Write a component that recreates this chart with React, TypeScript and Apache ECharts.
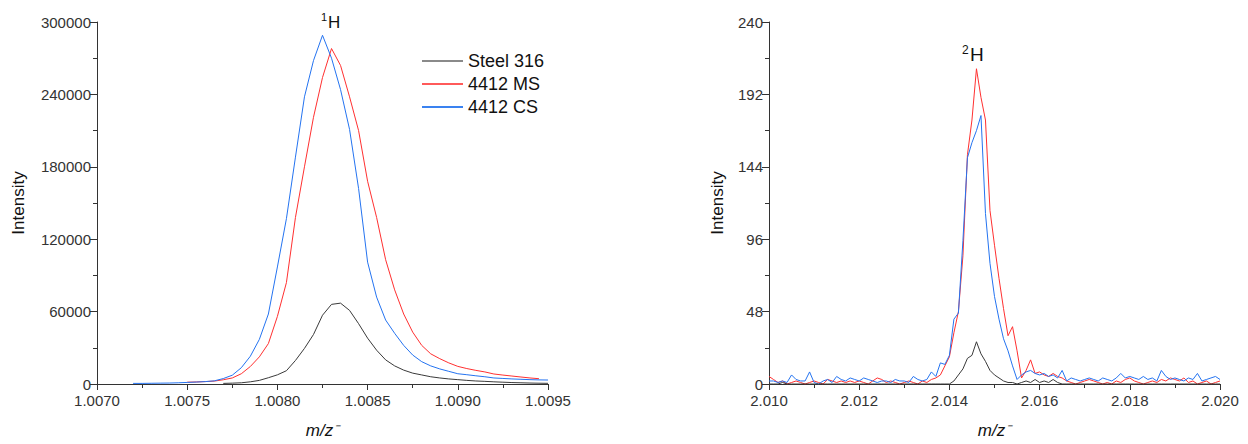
import React, { useEffect, useRef } from "react";
import * as echarts from "echarts";

// ---------- Data: 1H region (left panel) ----------
const H1_MZ = [
  1.0072, 1.00725, 1.0073, 1.00735, 1.0074, 1.00745, 1.0075, 1.00755, 1.0076, 1.00765,
  1.0077, 1.00775, 1.0078, 1.00785, 1.0079, 1.00795, 1.008, 1.00805, 1.0081, 1.00815,
  1.0082, 1.00825, 1.0083, 1.00835, 1.0084, 1.00845, 1.0085, 1.00855, 1.0086, 1.00865,
  1.0087, 1.00875, 1.0088, 1.00885, 1.0089, 1.00895, 1.009, 1.00905, 1.0091, 1.00915,
  1.0092, 1.00925, 1.0093, 1.00935, 1.0094, 1.00945, 1.0095,
];
const H1_STEEL = [
  null, null, null, null, null, null, null, null, null, null,
  500, 700, 1000, 1800, 3000, 5200, 7600, 11000, 19500, 29500,
  41000, 57000, 66000, 67000, 61000, 50000, 38000, 28000, 20000, 15000,
  11500, 9000, 7500, 6000, 5000, 4200, 3600, 3000, 2500, 2200,
  1800, 1500, 1200, 1000, 800, 650, 550,
];
const H1_MS = [
  null, null, null, null, null, null, 1500, 1700, 2000, 2400,
  3500, 5000, 8500, 14500, 22500, 33500, 56000, 84000, 138000, 180000,
  221000, 254000, 278000, 264000, 238000, 210000, 168000, 138000, 103000, 78000,
  58000, 43000, 32000, 25000, 21000, 17500, 14600, 12800, 11300, 10000,
  8300, 7400, 6600, 5800, 5000, 4400, null,
];
const H1_CS = [
  500, 500, 600, 700, 800, 1000, 1300, 1600, 2000, 2600,
  4500, 7300, 13500, 23000, 37000, 58000, 97000, 137000, 188000, 238000,
  268000, 289000, 270000, 244000, 211000, 162000, 101000, 72000, 53000, 42000,
  32000, 24000, 18500, 15000, 12500, 10500, 8500, 7700, 6800, 6000,
  5000, 4600, 4200, 3900, 3600, 3400, 3300,
];

// ---------- Data: 2H region (right panel) ----------
const H2_MZ = [
  2.0100, 2.0101, 2.0102, 2.0103, 2.0104, 2.0105, 2.0106, 2.0107, 2.0108, 2.0109,
  2.0110, 2.0111, 2.0112, 2.0113, 2.0114, 2.0115, 2.0116, 2.0117, 2.0118, 2.0119,
  2.0120, 2.0121, 2.0122, 2.0123, 2.0124, 2.0125, 2.0126, 2.0127, 2.0128, 2.0129,
  2.0130, 2.0131, 2.0132, 2.0133, 2.0134, 2.0135, 2.0136, 2.0137, 2.0138, 2.0139,
  2.0140, 2.0141, 2.0142, 2.0143, 2.0144, 2.0145, 2.0146, 2.0147, 2.0148, 2.0149,
  2.0150, 2.0151, 2.0152, 2.0153, 2.0154, 2.0155, 2.0156, 2.0157, 2.0158, 2.0159,
  2.0160, 2.0161, 2.0162, 2.0163, 2.0164, 2.0165, 2.0166, 2.0167, 2.0168, 2.0169,
  2.0170, 2.0171, 2.0172, 2.0173, 2.0174, 2.0175, 2.0176, 2.0177, 2.0178, 2.0179,
  2.0180, 2.0181, 2.0182, 2.0183, 2.0184, 2.0185, 2.0186, 2.0187, 2.0188, 2.0189,
  2.0190, 2.0191, 2.0192, 2.0193, 2.0194, 2.0195, 2.0196, 2.0197, 2.0198, 2.0199,
  2.0200,
];
const H2_STEEL = [
  0, 0, 0, 1, 0, 0, 0, 0, 0, 0,
  0, 0, 0, 0, 0, 0, 0, 0, 0, 0,
  0, 0, 0, 0, 0, 0, 0, 0, 0, 0,
  0, 0, 0, 0, 0, 0, 0, 0, 0, 0,
  0, 2, 6, 10, 17, 19, 28, 20, 15, 9,
  6, 4, 2, 1, 1, 0, 1, 2, 1, 3,
  1, 2, 1, 3, 1, 0, 0, 0, 0, 0,
  0, 0, 0, 0, 0, 0, 0, 0, 0, 0,
  0, 0, 0, 0, 0, 0, 0, 0, 0, 0,
  0, 0, 0, 0, 0, 0, 0, 0, 0, 0,
  0,
];
const H2_MS = [
  5, 3, 1, 2, 0, 1, 2, 1, 0, 1,
  2, 1, 0, 3, 2, 1, 2, 1, 2, 1,
  2, 1, 0, 2, 4, 3, 1, 2, 1, 0,
  1, 2, 1, 0, 2, 1, 3, 4, 6, 12,
  18, 34, 48, 85, 152, 175, 209, 190, 175, 115,
  92, 70, 50, 32, 38, 22, 4, 9, 16, 7,
  8, 6, 5, 7, 5, 4, 2, 1, 0, 1,
  2, 3, 2, 1, 0, 1, 0, 2, 1, 3,
  4, 2, 1, 0, 1, 2, 1, 3, 2, 4,
  3, 2, 4, 1, 2, 0, 1, 2, 0, 1,
  2,
];
const H2_CS = [
  2, 2, 1, 2, 1, 6, 3, 2, 2, 8,
  1, 0, 2, 3, 1, 5, 3, 2, 4, 3,
  2, 4, 3, 2, 1, 2, 2, 1, 3, 2,
  2, 1, 5, 3, 2, 3, 8, 5, 14, 13,
  19, 43, 47, 95, 150, 160, 168, 178, 113, 80,
  58, 43, 30, 22, 12, 3, 6, 8, 9, 7,
  6, 7, 5, 6, 4, 9, 2, 4, 3, 2,
  3, 4, 3, 2, 4, 3, 2, 4, 7, 4,
  5, 4, 3, 5, 3, 4, 2, 9, 5, 3,
  4, 3, 2, 4, 3, 7, 2, 3, 4, 5,
  3,
];

const SERIES_NAMES = ["Steel 316", "4412 MS", "4412 CS"];
const COLORS = ["#3a3a3a", "#ff3030", "#2473f0"];
const LEGEND_COLORS = ["#8a8a8a", "#ff5a5a", "#3a82f0"];

const FONT = "'Liberation Sans', Arial, sans-serif";

function pairs(xs: number[], ys: (number | null)[]) {
  return xs.map((x, i) => [x, ys[i]]);
}

export default function App() {
  const ref = useRef<HTMLDivElement>(null);
  useEffect(() => {
    document.body.style.margin = "0";
    if (!ref.current) return;
    const chart = echarts.init(ref.current, null, { renderer: "svg" });

    const axisLine = { show: true, lineStyle: { color: "#333", width: 1 } };
    const axisLabel = { color: "#333", fontSize: 15, fontFamily: FONT };
    const nameTextStyle = { color: "#111", fontSize: 17, fontFamily: FONT };
    const xName = {
      name: "m/z\u207B",
      nameLocation: "middle" as const,
      nameGap: 38,
      nameTextStyle: { ...nameTextStyle, fontStyle: "italic" },
    };

    const mkSeries = (idx: number, data: any[], axis: number) => ({
      type: "line",
      name: SERIES_NAMES[idx],
      xAxisIndex: axis,
      yAxisIndex: axis,
      data,
      symbol: "none",
      showSymbol: false,
      lineStyle: { color: COLORS[idx], width: 1 },
      itemStyle: { color: LEGEND_COLORS[idx] },
      z: idx === 0 ? 4 : 3,
    });

    chart.setOption({
      animation: false,
      backgroundColor: "#fff",
      textStyle: { fontFamily: FONT },
      grid: [
        { left: 97, top: 22, width: 451, height: 362 },
        { left: 769, top: 22, width: 451, height: 362 },
      ],
      legend: {
        data: SERIES_NAMES.map((n) => ({ name: n, icon: "rect" })),
        orient: "vertical",
        left: 422,
        top: 52,
        padding: 0,
        itemWidth: 41,
        itemHeight: 2,
        itemGap: 5,
        textStyle: { fontSize: 18, color: "#111", fontFamily: FONT, lineHeight: 18 },
      },
      xAxis: [
        {
          type: "value",
          gridIndex: 0,
          min: 1.007,
          max: 1.0095,
          interval: 0.0005,
          axisLine,
          axisTick: { show: true, length: 6, lineStyle: { color: "#333" } },
          minorTick: { show: true, splitNumber: 2, length: 4, lineStyle: { color: "#333" } },
          splitLine: { show: false },
          axisLabel: { ...axisLabel, margin: 9, formatter: (v: number) => v.toFixed(4) },
          ...xName,
        },
        {
          type: "value",
          gridIndex: 1,
          min: 2.01,
          max: 2.02,
          interval: 0.002,
          axisLine,
          axisTick: { show: true, length: 6, lineStyle: { color: "#333" } },
          minorTick: { show: true, splitNumber: 2, length: 4, lineStyle: { color: "#333" } },
          splitLine: { show: false },
          axisLabel: { ...axisLabel, margin: 9, formatter: (v: number) => v.toFixed(3) },
          ...xName,
        },
      ],
      yAxis: [
        {
          type: "value",
          gridIndex: 0,
          min: 0,
          max: 300000,
          interval: 60000,
          axisLine,
          axisTick: { show: true, length: 7, lineStyle: { color: "#333" } },
          minorTick: { show: true, splitNumber: 2, length: 4, lineStyle: { color: "#333" } },
          splitLine: { show: false },
          axisLabel: { ...axisLabel, margin: 6, formatter: (v: number) => String(Math.round(v)) },
          name: "Intensity",
          nameLocation: "middle",
          nameGap: 70,
          nameTextStyle,
        },
        {
          type: "value",
          gridIndex: 1,
          min: 0,
          max: 240,
          interval: 48,
          axisLine,
          axisTick: { show: true, length: 7, lineStyle: { color: "#333" } },
          minorTick: { show: true, splitNumber: 2, length: 4, lineStyle: { color: "#333" } },
          splitLine: { show: false },
          axisLabel: { ...axisLabel, margin: 6, formatter: (v: number) => String(Math.round(v)) },
          name: "Intensity",
          nameLocation: "middle",
          nameGap: 43,
          nameTextStyle,
        },
      ],
      graphic: [
        { type: "text", x: 321, y: 11, style: { text: "1", fontSize: 11, fill: "#111", fontFamily: FONT } },
        { type: "text", x: 328, y: 14, style: { text: "H", fontSize: 17, fill: "#111", fontFamily: FONT } },
        { type: "text", x: 962, y: 44, style: { text: "2", fontSize: 12, fill: "#111", fontFamily: FONT } },
        { type: "text", x: 970, y: 45, style: { text: "H", fontSize: 19, fill: "#111", fontFamily: FONT } },
      ],
      series: [
        mkSeries(0, pairs(H1_MZ, H1_STEEL), 0),
        mkSeries(1, pairs(H1_MZ, H1_MS), 0),
        mkSeries(2, pairs(H1_MZ, H1_CS), 0),
        mkSeries(0, pairs(H2_MZ, H2_STEEL), 1),
        mkSeries(1, pairs(H2_MZ, H2_MS), 1),
        mkSeries(2, pairs(H2_MZ, H2_CS), 1),
      ],
    });
    return () => chart.dispose();
  }, []);
  return <div ref={ref} style={{ width: 1248, height: 444 }} />;
}
